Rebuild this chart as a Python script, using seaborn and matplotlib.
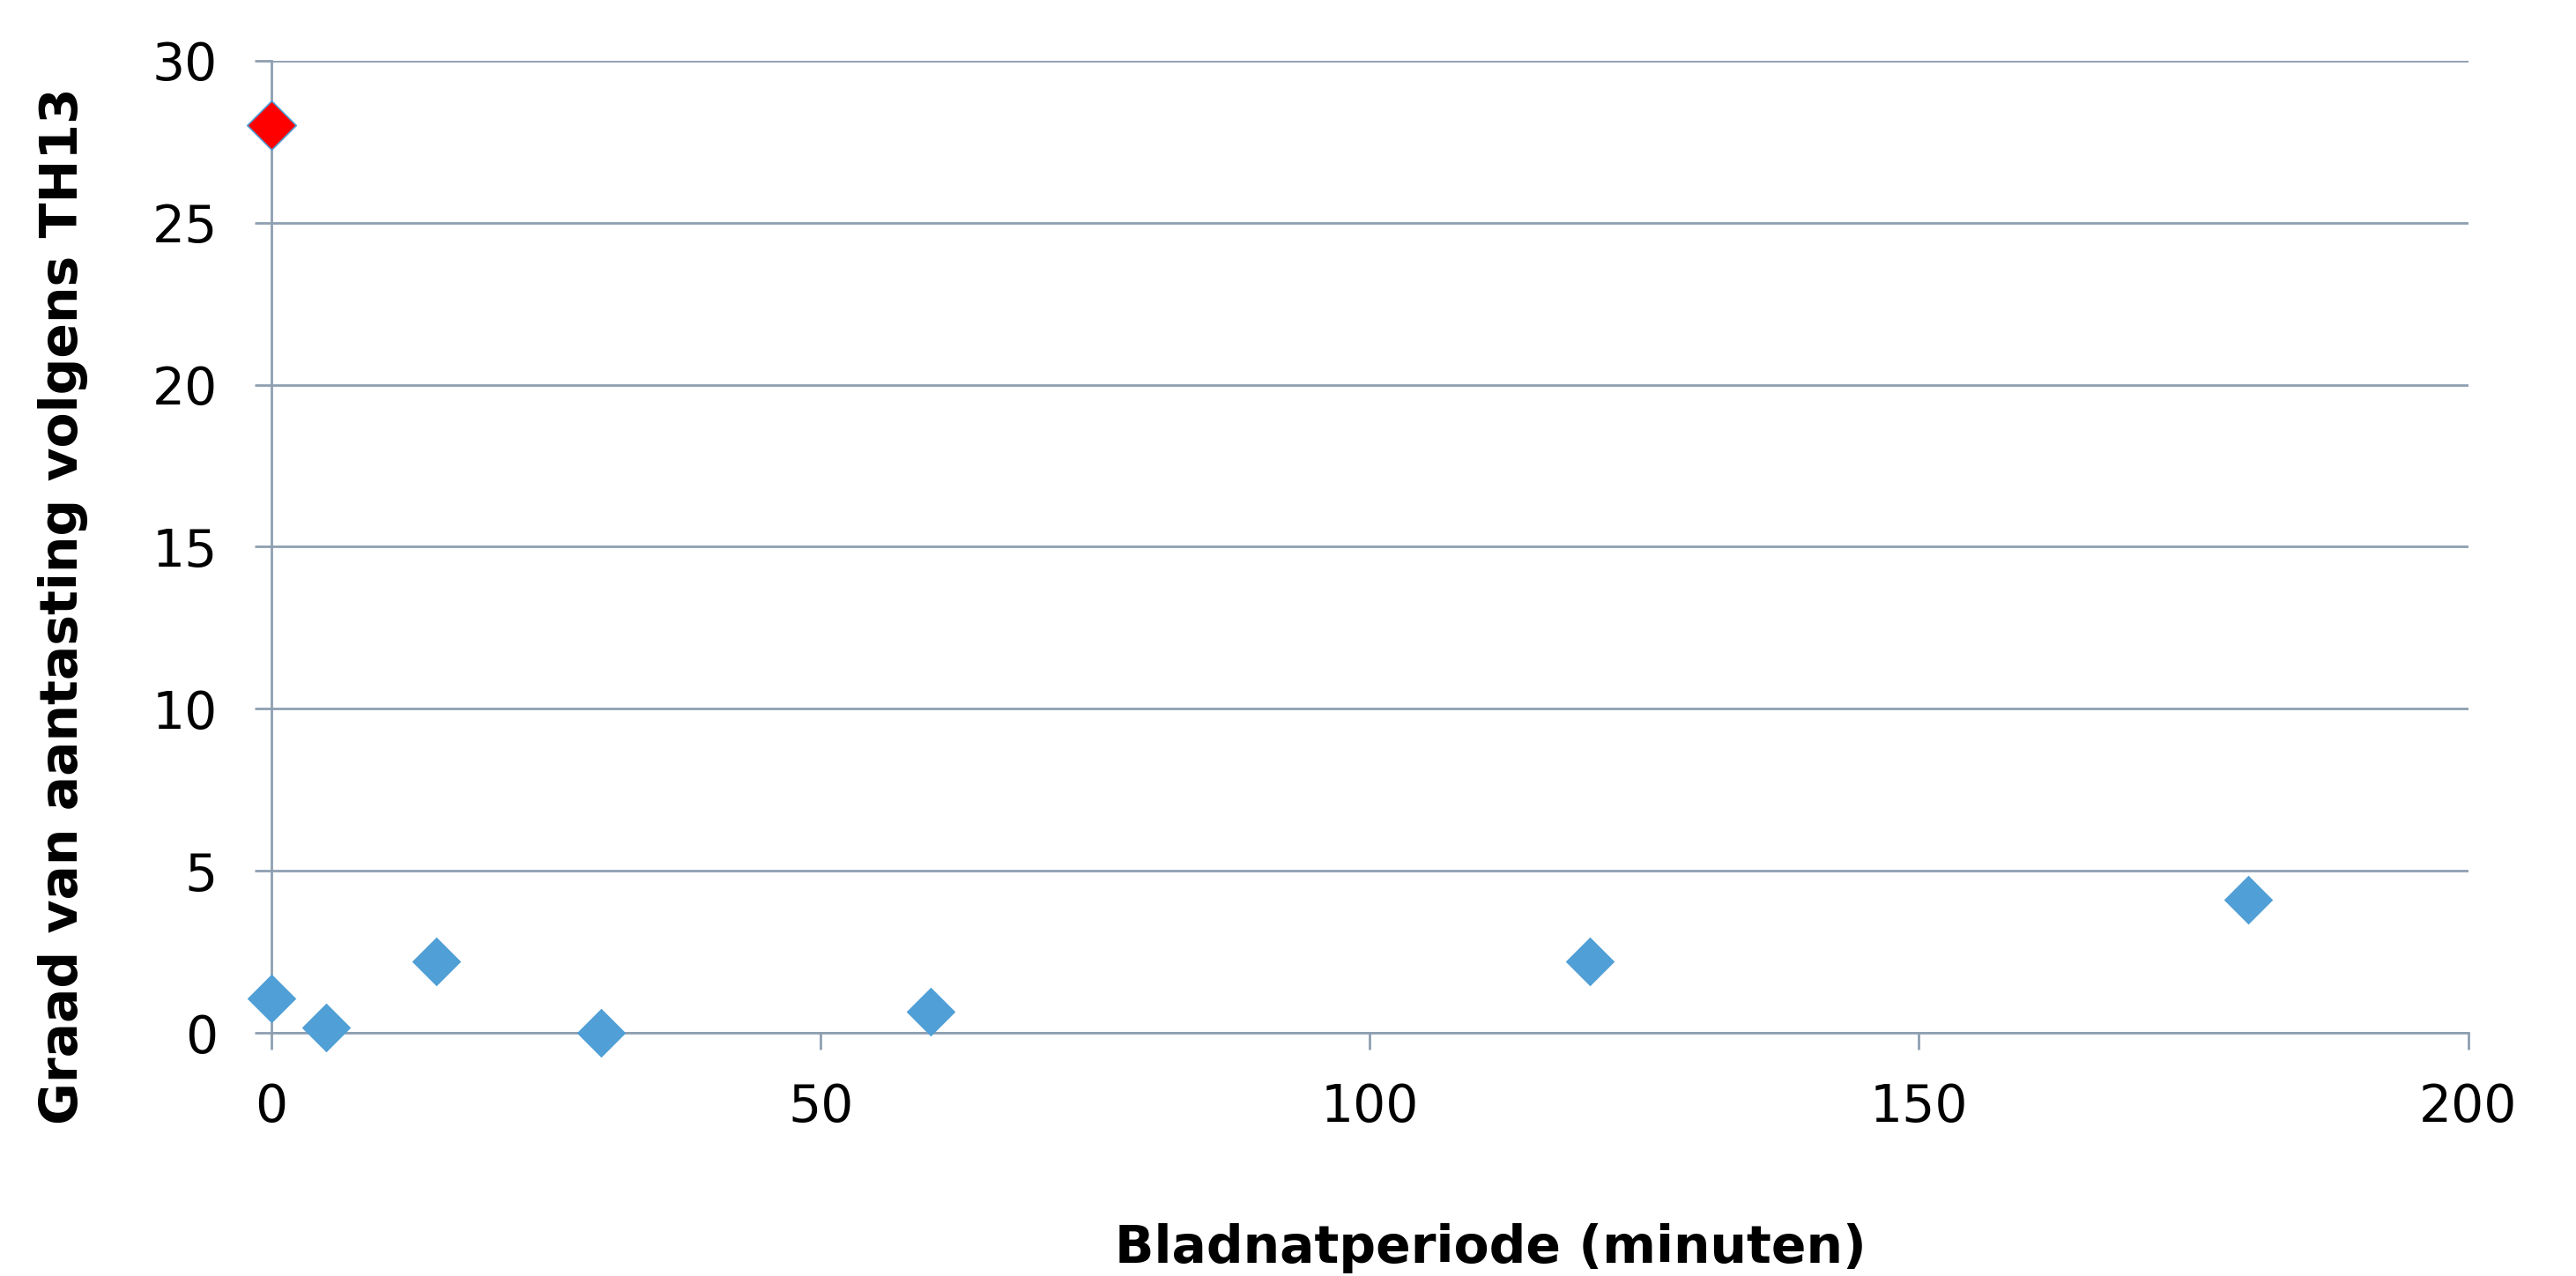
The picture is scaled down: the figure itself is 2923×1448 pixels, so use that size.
import matplotlib
matplotlib.use("Agg")
import matplotlib.pyplot as plt
import seaborn as sns
import pandas as pd

# Data
bladnat_min = [0, 5, 15, 30, 60, 120, 180]
aantasting = [1.05, 0.15, 2.2, 0.0, 0.65, 2.2, 4.1]
controle_x = [0]
controle_y = [28]

x_ticks = [0, 50, 100, 150, 200]
y_ticks = [0, 5, 10, 15, 20, 25, 30]

sns.set_theme(style="white")
plt.rcParams['font.family'] = ['DejaVu Sans']
plt.rcParams['text.color'] = 'black'
plt.rcParams['axes.labelcolor'] = 'black'
plt.rcParams['xtick.labelcolor'] = 'black'
plt.rcParams['ytick.labelcolor'] = 'black'

grid_col = "#8E9FB1"
blue = "#509FD6"

fig = plt.figure(figsize=(14.615, 7.24), dpi=200)
ax = fig.add_axes([0.1054, 0.1906, 0.8527, 0.7618])

df = pd.DataFrame({"x": bladnat_min, "y": aantasting})
sns.scatterplot(data=df, x="x", y="y", ax=ax, marker="D", s=200,
                color=blue, edgecolor=blue, linewidth=0, zorder=3, clip_on=False)
dfc = pd.DataFrame({"x": controle_x, "y": controle_y})
sns.scatterplot(data=dfc, x="x", y="y", ax=ax, marker="D", s=200,
                color="#FF0000", edgecolor=blue, linewidth=0.6, zorder=4, clip_on=False)

ax.set_xlim(0, 200)
ax.set_ylim(0, 30)
ax.set_xticks(x_ticks)
ax.set_yticks(y_ticks)
ax.yaxis.grid(True, color=grid_col, linewidth=1.0)
ax.xaxis.grid(False)
for side in ["top", "right"]:
    ax.spines[side].set_visible(False)
for side in ["left", "bottom"]:
    ax.spines[side].set_color(grid_col)
    ax.spines[side].set_linewidth(1.0)
ax.tick_params(axis="x", direction="out", length=7, width=1.0, color=grid_col,
               pad=13, labelsize=21, bottom=True, labelcolor="black")
ax.tick_params(axis="y", direction="out", length=7, width=1.0, color=grid_col,
               pad=15, labelsize=21, left=True, labelcolor="black")

ax.set_xlabel("Bladnatperiode (minuten)", fontsize=21, fontweight="bold", color="black")
ax.set_ylabel("Graad van aantasting volgens TH13", fontsize=21, fontweight="bold", color="black")
ax.xaxis.set_label_coords(0.555, -0.222)
ax.xaxis.label.set_va("center")
ax.yaxis.set_label_coords(-0.095, 0.439)
ax.yaxis.label.set_va("center")

fig.savefig("out.png", dpi=200, facecolor="white")
